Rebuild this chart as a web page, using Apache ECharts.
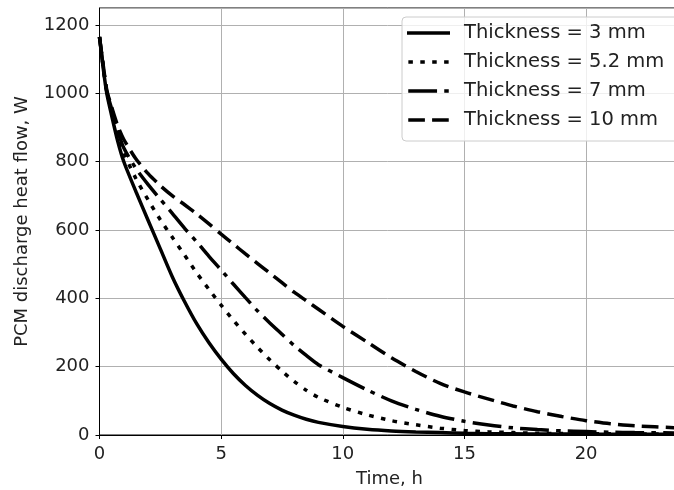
<!DOCTYPE html>
<html>
<head>
<meta charset="utf-8">
<script src="https://cdn.jsdelivr.net/npm/echarts@6/dist/echarts.min.js"></script>
<style>
html,body{margin:0;padding:0;background:#fff;overflow:hidden;}
#chart{width:674px;height:490px;}
</style>
</head>
<body>
<div id="chart"></div>
<script>
const times = [0, 0.15, 0.3, 0.5, 0.75, 1, 1.5, 2, 2.5, 3, 3.5, 4, 4.5, 5, 5.5, 6, 6.5, 7, 7.5, 8, 8.5, 9, 10, 11, 12, 13, 14, 15, 16, 17, 18, 19, 20, 21, 22, 23.8];
const thick3 = [1165, 1075, 1000, 935, 860, 800, 712, 628, 545, 462, 390, 325, 270, 222, 180, 145, 116, 92, 73, 58, 46, 37, 25, 17, 12, 9, 7, 5, 4, 3.5, 3, 3, 2.5, 2.5, 2, 2];
const thick52 = [1165, 1080, 1005, 950, 875, 825, 750, 688, 630, 578, 526, 474, 426, 380, 336, 295, 256, 220, 187, 157, 131, 110, 81, 59, 42, 30, 20, 13, 9, 7, 5, 4.5, 4, 3.5, 3, 3];
const thick7 = [1165, 1080, 1005, 955, 890, 840, 780, 733, 690, 648, 605, 565, 523, 483, 442, 402, 363, 328, 295, 262, 233, 206, 168, 132, 100, 75, 55, 40, 29, 21, 16, 12, 10, 8, 7, 6];
const thick10 = [1165, 1085, 1010, 960, 905, 865, 808, 765, 730, 700, 674, 647, 618, 588, 559, 530, 502, 474, 446, 418, 393, 368, 318, 272, 226, 186, 151, 126, 105, 85, 68, 54, 42, 33, 27, 21];
const seriesNames = ['Thickness = 3 mm', 'Thickness = 5.2 mm', 'Thickness = 7 mm', 'Thickness = 10 mm'];
const xTicks = [0, 5, 10, 15, 20];
const yTicks = [0, 200, 400, 600, 800, 1000, 1200];

const LW = 3.5;
const U = 4.5;
const dashes = ['solid', [U * 1, U * 1.65], [U * 6.4, U * 1.6, U * 1, U * 1.6], [U * 3.7, U * 1.6]];
const allValues = [thick3, thick52, thick7, thick10];

function iconPath(pattern) {
  const W = 43, H = 3.5;
  if (pattern === 'solid') return 'path://M0 0H' + W + 'V' + H + 'H0Z';
  let p = '', x = 0, k = 0;
  while (x < W) {
    const len = pattern[k % pattern.length];
    if (k % 2 === 0) {
      const x2 = Math.min(x + len, W);
      p += 'M' + x.toFixed(2) + ' 0H' + x2.toFixed(2) + 'V' + H + 'H' + x.toFixed(2) + 'Z';
    }
    x += len; k++;
  }
  return 'path://' + p;
}

const pair = vals => times.map((t, i) => [t, vals[i]]);
const series = allValues.map((vals, k) => ({
  name: seriesNames[k],
  type: 'line',
  data: pair(vals),
  smooth: 0.25,
  showSymbol: false,
  symbol: 'none',
  lineStyle: { color: '#000', width: LW, type: dashes[k], cap: 'butt' },
  itemStyle: { color: '#000' },
  z: 3
}));

const chart = echarts.init(document.getElementById('chart'), null, { renderer: 'canvas' });
const font = 'DejaVu Sans';
chart.setOption({
  animation: false,
  backgroundColor: '#fff',
  textStyle: { fontFamily: font },
  grid: { left: 99.5, top: 8, width: 580, height: 427, outerBoundsMode: 'none', containLabel: false,
    show: true, borderColor: '#000', borderWidth: 1, backgroundColor: 'transparent' },
  legend: {
    orient: 'vertical',
    left: 402, top: 17,
    itemWidth: 43, itemHeight: 3.5,
    itemGap: 9,
    padding: [6, 14, 11, 5],
    backgroundColor: 'rgba(255,255,255,0.8)',
    borderColor: '#cccccc', borderWidth: 1, borderRadius: 4,
    textStyle: { fontFamily: font, fontSize: 19.5, color: '#222', padding: [0, 0, 0, 9] },
    data: seriesNames.map((n, k) => ({ name: n, icon: iconPath(dashes[k]) }))
  },
  xAxis: {
    type: 'value', min: 0, max: 23.84, interval: 5,
    name: 'Time, h', nameLocation: 'middle', nameGap: 35,
    nameTextStyle: { fontFamily: font, fontSize: 18, color: '#222' },
    axisLine: { show: true, lineStyle: { color: '#000', width: 1 } },
    axisTick: { show: true, length: 4, lineStyle: { color: '#000' } },
    axisLabel: { fontFamily: font, fontSize: 18, color: '#222', margin: 10, showMaxLabel: false,
      formatter: v => (xTicks.indexOf(v) >= 0 ? String(v) : '') },
    splitLine: { show: true, lineStyle: { color: '#b0b0b0', width: 1 } }
  },
  yAxis: {
    type: 'value', min: 0, max: 1250, interval: 200,
    name: 'PCM discharge heat flow, W', nameLocation: 'middle', nameGap: 68,
    nameTextStyle: { fontFamily: font, fontSize: 18, color: '#222' },
    axisLine: { show: true, lineStyle: { color: '#000', width: 1 } },
    axisTick: { show: true, length: 4, lineStyle: { color: '#000' } },
    axisLabel: { fontFamily: font, fontSize: 18, color: '#222', margin: 10, showMaxLabel: false,
      formatter: v => (yTicks.indexOf(v) >= 0 ? String(v) : '') },
    splitLine: { show: true, lineStyle: { color: '#b0b0b0', width: 1 } }
  },
  series: series
});
</script>
</body>
</html>
